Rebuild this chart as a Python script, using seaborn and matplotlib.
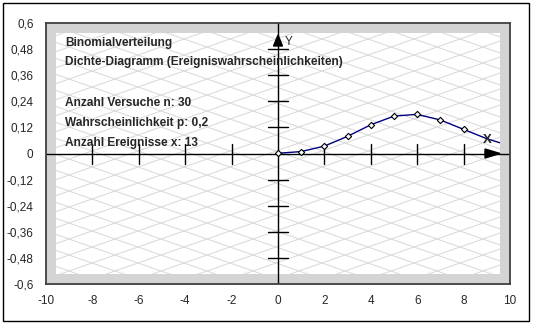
import numpy as np
import pandas as pd
import matplotlib
matplotlib.use("Agg")
import matplotlib.pyplot as plt
import seaborn as sns

# ---- data ----
k_values = [0, 1, 2, 3, 4, 5, 6, 7, 8, 9, 10]
probabilities = [0.001, 0.009, 0.034, 0.079, 0.132, 0.172, 0.180, 0.154, 0.111, 0.068, 0.035]
x_ticks = [-10, -8, -6, -4, -2, 0, 2, 4, 6, 8, 10]
x_tick_labels = ["-10", "-8", "-6", "-4", "-2", "0", "2", "4", "6", "8", "10"]
y_ticks = [-0.6, -0.48, -0.36, -0.24, -0.12, 0, 0.12, 0.24, 0.36, 0.48, 0.6]
y_tick_labels = ["-0,6", "-0,48", "-0,36", "-0,24", "-0,12", "0", "0,12", "0,24", "0,36", "0,48", "0,6"]
info_lines = ["Binomialverteilung",
              "Dichte-Diagramm (Ereigniswahrscheinlichkeiten)",
              "Anzahl Versuche n: 30",
              "Wahrscheinlichkeit p: 0,2",
              "Anzahl Ereignisse x: 13"]

sns.set_style("white")
plt.rcParams["font.family"] = ["Liberation Sans", "DejaVu Sans"]

W, H = 533, 324
fig = plt.figure(figsize=(W / 100, H / 100), dpi=100)

# outer black border
fig.patches.append(plt.Rectangle((3 / W, 1 - 321 / H), 526 / W, 318 / H,
                                 transform=fig.transFigure, fill=False,
                                 edgecolor="black", linewidth=1.0))

L, R, T, B = 46, 510, 23, 284
ax = fig.add_axes([L / W, 1 - B / H, (R - L) / W, (B - T) / H])
xmin, xmax, ymin, ymax = -10, 10, -0.6, 0.6
ax.set_xlim(xmin, xmax)
ax.set_ylim(ymin, ymax)
ax.set_facecolor("#d4d4d4")
for s in ax.spines.values():
    s.set_color("#404040")
    s.set_linewidth(1.3)

sx = (R - L) / (xmax - xmin)      # px per x unit
sy = (B - T) / (ymax - ymin)      # px per y unit

def px2x(px):
    return xmin + (px - L) / sx

def py2y(py):
    return ymax - (py - T) / sy

# inner white area
band = 10
ix0, ix1 = px2x(L + band), px2x(R - band)
iy0, iy1 = py2y(B - band), py2y(T + band)
inner = plt.Rectangle((ix0, iy0), ix1 - ix0, iy1 - iy0, facecolor="white",
                      edgecolor="none", zorder=0.5)
ax.add_patch(inner)

# diamond lattice
DW, DH = 46, 16
slope = DH / DW
for k in range(-40, 60):
    for sgn in (1, -1):
        pxs = np.array([L, R])
        if sgn == 1:
            pys = T + k * DH + slope * (pxs - L)
        else:
            pys = T + k * DH - slope * (pxs - L)
        ln, = ax.plot(px2x(pxs), py2y(pys), color="#dadada", linewidth=0.75, zorder=0.6)
        ln.set_clip_path(inner)

# axes lines
ax.axhline(0, color="black", linewidth=1.0, zorder=2)
ax.axvline(0, color="black", linewidth=1.0, zorder=2)

# tick marks drawn on the axes cross
tl = 10
x0px = L + (-xmin) * sx
y0px = T + ymax * sy
for xt in x_ticks:
    if xt in (0, xmin, xmax):
        continue
    ax.plot([xt, xt], [py2y(y0px - tl), py2y(y0px + tl)],
            color="black", linewidth=1.0, zorder=2)
for yt in y_ticks:
    if yt in (0, ymin, ymax):
        continue
    ax.plot([px2x(x0px - tl), px2x(x0px + tl)], [yt, yt],
            color="black", linewidth=1.0, zorder=2)

# arrow heads
ax.fill([px2x(x0px - 4.5), px2x(x0px + 4.5), px2x(x0px)],
        [py2y(46), py2y(46), py2y(35)], color="black", zorder=3)
ax.fill([px2x(485), px2x(485), px2x(500)],
        [py2y(y0px - 4.5), py2y(y0px + 4.5), py2y(y0px)], color="black", zorder=3)
ax.text(px2x(285), py2y(42), "Y", fontsize=8.5, va="center", ha="left", zorder=3)
ax.text(px2x(487), py2y(140), "X", fontsize=9.5, fontweight="bold", va="center",
        ha="center", zorder=5)

# curve
df = pd.DataFrame({"k": k_values, "p": probabilities})
sns.lineplot(data=df, x="k", y="p", ax=ax, color="#000080", linewidth=1.0,
             zorder=3)
ax.lines[-1].set_clip_path(inner)
mk = df[df["k"] <= 8]
ax.scatter(mk["k"], mk["p"], s=10, marker="D", facecolor="white",
           edgecolor="black", linewidths=0.8, zorder=4)

# info text
for txt, py in zip(info_lines, [43, 62, 103, 123, 143]):
    ax.text(px2x(65), py2y(py), txt, fontsize=8.6, fontweight="bold",
            va="center", ha="left", zorder=5)

ax.set_xticks(x_ticks)
ax.set_xticklabels(x_tick_labels)
ax.set_yticks(y_ticks)
ax.set_yticklabels(y_tick_labels)
ax.tick_params(axis="both", length=0, labelsize=8.5)
ax.tick_params(axis="x", pad=8)
ax.tick_params(axis="y", pad=9)
ax.set_xlabel("")
ax.set_ylabel("")

fig.savefig("out.png", dpi=100)
